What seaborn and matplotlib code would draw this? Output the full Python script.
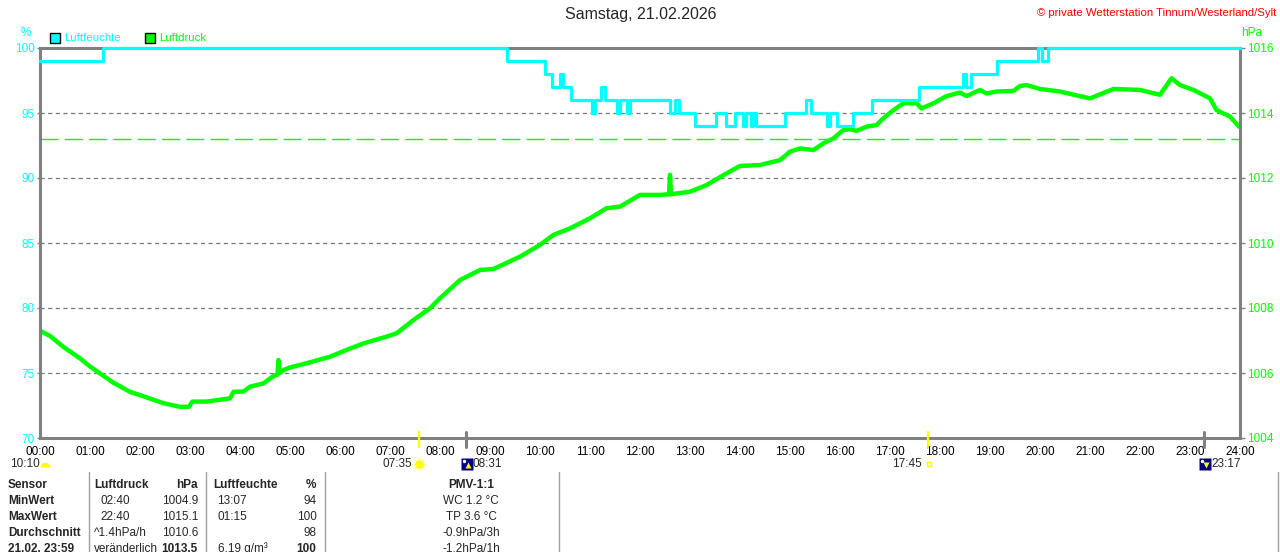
import numpy as np
import pandas as pd
import seaborn as sns
import matplotlib.pyplot as plt
from matplotlib.patches import Rectangle
from matplotlib.transforms import offset_copy

# Luftfeuchte in %, Stufen: ab Stunde x gilt Wert y
hum_hours = [0.00, 1.26, 9.34, 10.10, 10.24, 10.40, 10.46, 10.62, 11.04, 11.10, 11.22, 11.30,
             11.54, 11.60, 11.74, 11.80, 12.60, 12.70, 12.78, 13.10, 13.52, 13.72, 13.90,
             14.06, 14.12, 14.22, 14.26, 14.32, 14.90, 15.32, 15.42, 15.74, 15.80, 15.94,
             16.26, 16.64, 17.57, 18.45, 18.52, 18.61, 19.13, 19.96, 20.04, 20.16, 24.00]
hum_values = [99, 100, 99, 98, 97, 98, 97, 96, 95, 96, 97, 96,
              95, 96, 95, 96, 95, 96, 95, 94, 95, 94, 95,
              94, 95, 94, 95, 94, 95, 96, 95, 94, 95, 94,
              95, 96, 97, 98, 97, 98, 99, 100, 99, 100, 100]

# Luftdruck in hPa
p_hours = [0.00, 0.20, 0.47, 0.80, 1.00, 1.47, 1.80, 2.00, 2.47, 2.80, 2.98, 3.05, 3.33,
           3.80, 3.87, 4.07, 4.20, 4.47, 4.67, 4.75, 4.77, 4.79, 4.87, 5.00, 5.33, 5.80,
           6.13, 6.47, 6.93, 7.13, 7.47, 7.80, 8.00, 8.40, 8.80, 9.07, 9.60, 10.00, 10.27,
           10.60, 11.00, 11.33, 11.60, 12.00, 12.40, 12.58, 12.60, 12.62, 13.00, 13.33,
           13.67, 14.00, 14.40, 14.80, 15.00, 15.20, 15.47, 15.67, 15.87, 16.07, 16.20,
           16.33, 16.53, 16.73, 16.87, 17.07, 17.27, 17.53, 17.63, 17.87, 18.13, 18.40,
           18.53, 18.80, 18.93, 19.13, 19.47, 19.60, 19.73, 20.00, 20.40, 21.00, 21.47,
           22.00, 22.40, 22.63, 22.80, 23.07, 23.40, 23.53, 23.80, 23.98]
p_values = [1007.30, 1007.14, 1006.80, 1006.45, 1006.20, 1005.70, 1005.42, 1005.32, 1005.07,
            1004.96, 1004.96, 1005.12, 1005.12, 1005.22, 1005.42, 1005.43, 1005.58, 1005.68,
            1005.91, 1005.95, 1006.40, 1006.00, 1006.09, 1006.17, 1006.30, 1006.50, 1006.71,
            1006.91, 1007.12, 1007.22, 1007.63, 1007.99, 1008.30, 1008.86, 1009.17, 1009.20,
            1009.58, 1009.94, 1010.25, 1010.45, 1010.76, 1011.07, 1011.12, 1011.48, 1011.48,
            1011.50, 1012.10, 1011.50, 1011.58, 1011.78, 1012.09, 1012.37, 1012.40, 1012.55,
            1012.81, 1012.91, 1012.86, 1013.07, 1013.22, 1013.48, 1013.50, 1013.45, 1013.58,
            1013.63, 1013.84, 1014.09, 1014.30, 1014.30, 1014.14, 1014.30, 1014.52, 1014.63,
            1014.52, 1014.71, 1014.60, 1014.66, 1014.68, 1014.83, 1014.86, 1014.74, 1014.66,
            1014.45, 1014.74, 1014.71, 1014.56, 1015.07, 1014.86, 1014.71, 1014.45, 1014.09,
            1013.89, 1013.58]

ref_pressure = 1013.2
hour_labels = ['%02d:00' % h for h in range(25)]

# Sonnenauf-/untergang, Mondauf-/untergang
sunrise, moonrise, sunset, moonset = '07:35', '08:31', '17:45', '23:17'

# Tabelle unten
col_sensor = ['Sensor', 'MinWert', 'MaxWert', 'Durchschnitt', '21.02. 23:59']
col_p_time = ['Luftdruck', '02:40', '22:40', '^1.4hPa/h', 'veränderlich']
col_p_val = ['hPa', '1004.9', '1015.1', '1010.6', '1013.5']
col_h_time = ['Luftfeuchte', '13:07', '01:15', '', '6.19 g/m³']
col_h_val = ['%', '94', '100', '98', '100']
col_pmv = ['PMV-1:1', 'WC 1.2 °C', 'TP 3.6 °C', '-0.9hPa/3h', '-1.2hPa/1h']

CYAN = '#00ffff'
GREEN = '#00ff00'
GRAY = '#808080'
W, H = 1280, 552


def to_h(t):
    hh, mm = t.split(':')
    return int(hh) + int(mm) / 60


def fx(px):
    return px / W


def fy(py):
    return 1 - py / H


sns.set_style('white')
plt.rcParams['font.family'] = ['Liberation Sans', 'DejaVu Sans']
plt.rcParams['lines.scale_dashes'] = False

fig = plt.figure(figsize=(12.8, 5.52), dpi=100)
ax = fig.add_axes([fx(40), fy(438), 1200 / W, 390 / H])
ax2 = ax.twinx()

df_p = pd.DataFrame({'Stunde': p_hours, 'Luftdruck': p_values})
df_h = pd.DataFrame({'Stunde': hum_hours, 'Luftfeuchte': hum_values})

# Luftdruck (rechte Achse) mit Gitter darunter
ax2.set_axisbelow(True)
ax2.grid(True, color='#787878', linestyle=(0, (3, 2.5)), lw=0.9)
ax2.axhline(ref_pressure, color=GREEN, lw=1, linestyle=(0, (13, 4.5)), zorder=1.5)
sns.lineplot(data=df_p, x='Stunde', y='Luftdruck', ax=ax2, color=GREEN, lw=3.2,
             legend=False, zorder=2)

# Luftfeuchte (linke Achse) oben drauf
sns.lineplot(data=df_h, x='Stunde', y='Luftfeuchte', ax=ax, color=CYAN, lw=2.3,
             drawstyle='steps-post', legend=False, zorder=3, clip_on=False)
ax.set_zorder(ax2.get_zorder() + 1)
ax.patch.set_visible(False)
ax.grid(False)

ax.set_xlim(0, 24)
ax.set_ylim(70, 100)
ax2.set_ylim(1004, 1016)
ax.set_xticks(range(25))
ax.set_xticklabels(hour_labels)
ax2.set_xticks(range(25))
ax.set_yticks(range(70, 101, 5))
ax2.set_yticks(range(1004, 1017, 2))
ax.set_xlabel('')
ax.set_ylabel('')
ax2.set_ylabel('')

for s in ax.spines.values():
    s.set_color(GRAY)
    s.set_linewidth(2.2)
for s in ax2.spines.values():
    s.set_visible(False)

ax.tick_params(axis='x', length=0, pad=6, labelsize=8.5, labelcolor='black')
ax.tick_params(axis='y', length=2.5, width=1, color=GRAY, pad=1.5, labelsize=8.5,
               labelcolor=CYAN)
ax2.tick_params(axis='y', length=3.6, width=1, color=GRAY, pad=1.5, labelsize=8.5,
                labelcolor=GREEN)

# Markierungen Sonne / Mond an der x-Achse
xt = ax.get_xaxis_transform()
for t, col, lw in [(sunrise, '#ffff00', 1.6), (sunset, '#ffff00', 1.6),
                   (moonrise, GRAY, 2.2), (moonset, GRAY, 2.2)]:
    ax.plot([to_h(t)] * 2, [6 / 390, -9 / 390], color=col, lw=lw,
            transform=xt, clip_on=False, zorder=5)

icon_y = -26 / 390
# Sonnenaufgang
ax.plot(to_h(sunrise), icon_y, marker='+', ms=10, mew=1, color='#ffff80', transform=xt, clip_on=False)
ax.plot(to_h(sunrise), icon_y, marker='x', ms=7.5, mew=1, color='#ffff80', transform=xt, clip_on=False)
ax.plot(to_h(sunrise), icon_y, marker='o', ms=6, mec='none', color='#ffff00', transform=xt, clip_on=False)
ax.text(to_h(sunrise), icon_y, sunrise, ha='right', va='center', fontsize=8.5,
        transform=offset_copy(xt, fig, x=-7, units='dots'))
# Sonnenuntergang
ax.plot(to_h(sunset), icon_y, marker='s', ms=3.5, mfc='none', mec='#ffff00', mew=1,
        transform=offset_copy(xt, fig, x=1, units='dots'), clip_on=False)
ax.text(to_h(sunset), icon_y, sunset, ha='right', va='center', fontsize=8.5,
        transform=offset_copy(xt, fig, x=-6, units='dots'))
# Mond
for t, arrow in [(moonrise, '^'), (moonset, 'v')]:
    tr = offset_copy(xt, fig, x=1, units='dots')
    ax.plot(to_h(t), icon_y, marker='s', ms=8, mec='none', color='#000080', transform=tr, clip_on=False)
    ax.plot(to_h(t), icon_y, marker=arrow, ms=4, mec='none', color='#ffff00',
            transform=offset_copy(xt, fig, x=2, y=-1, units='dots'), clip_on=False)
    ax.plot(to_h(t), icon_y, marker='o', ms=2.5, mec='none', color='white',
            transform=offset_copy(xt, fig, x=-2, y=3, units='dots'), clip_on=False)
    ax.text(to_h(t), icon_y, t, ha='left', va='center', fontsize=8.5,
            transform=offset_copy(xt, fig, x=7, units='dots'))

# Tageslaenge
day_min = round((to_h(sunset) - to_h(sunrise)) * 60)
fig.text(fx(10), fy(464), '%02d:%02d' % (day_min // 60, day_min % 60), ha='left',
         va='center', fontsize=8.5)
fig.add_artist(plt.Line2D([fx(44.5)], [fy(467)], marker='o', ms=7, fillstyle='top',
                          mec='none', mfc='#ffff00', transform=fig.transFigure))

# Kopf
fig.text(fx(641), fy(15), 'Samstag, 21.02.2026', ha='center', va='center', fontsize=11.5)
fig.text(fx(1276), fy(12.5), '© private Wetterstation Tinnum/Westerland/Sylt', ha='right',
         va='center', fontsize=8.2, color='#ff0000')
fig.text(fx(26), fy(32.5), '%', ha='center', va='center', fontsize=8.5, color=CYAN)
fig.text(fx(1241), fy(32.5), 'hPa', ha='left', va='center', fontsize=8.5, color=GREEN)

# Legende
for x0, col, lab in [(50, CYAN, 'Luftfeuchte'), (145, GREEN, 'Luftdruck')]:
    fig.add_artist(Rectangle((fx(x0), fy(43)), 10 / W, 10 / H, transform=fig.transFigure,
                             fc=col, ec='black', lw=1))
    fig.text(fx(x0 + 14), fy(38), lab, ha='left', va='center', fontsize=8.2, color=col)

# Tabelle
for xl in [88.5, 206, 324.5, 558.5, 1278]:
    fig.add_artist(plt.Line2D([fx(xl), fx(xl)], [fy(472), fy(552)], color='#a0a0a0', lw=1,
                              transform=fig.transFigure))

row_y = [485, 501, 517, 533, 548.5]
for i, y in enumerate(row_y):
    hdr = 'bold' if i == 0 else 'normal'
    fig.text(fx(8), fy(y), col_sensor[i], ha='left', va='center', fontsize=8.5, weight='bold')
    fig.text(fx(94 if i in (0, 3, 4) else 100.5), fy(y), col_p_time[i], ha='left', va='center',
             fontsize=8.5, weight=hdr)
    fig.text(fx(198), fy(y), col_p_val[i], ha='right', va='center', fontsize=8.5,
             weight='bold' if i in (0, 4) else 'normal')
    fig.text(fx(213 if i == 0 else 217.5), fy(y), col_h_time[i], ha='left', va='center',
             fontsize=8.5, weight=hdr)
    fig.text(fx(316.5), fy(y), col_h_val[i], ha='right', va='center', fontsize=8.5,
             weight='bold' if i in (0, 4) else 'normal')
    fig.text(fx(471), fy(y), col_pmv[i], ha='center', va='center', fontsize=8.5, weight=hdr)

fig.savefig('out.png', dpi=100)
